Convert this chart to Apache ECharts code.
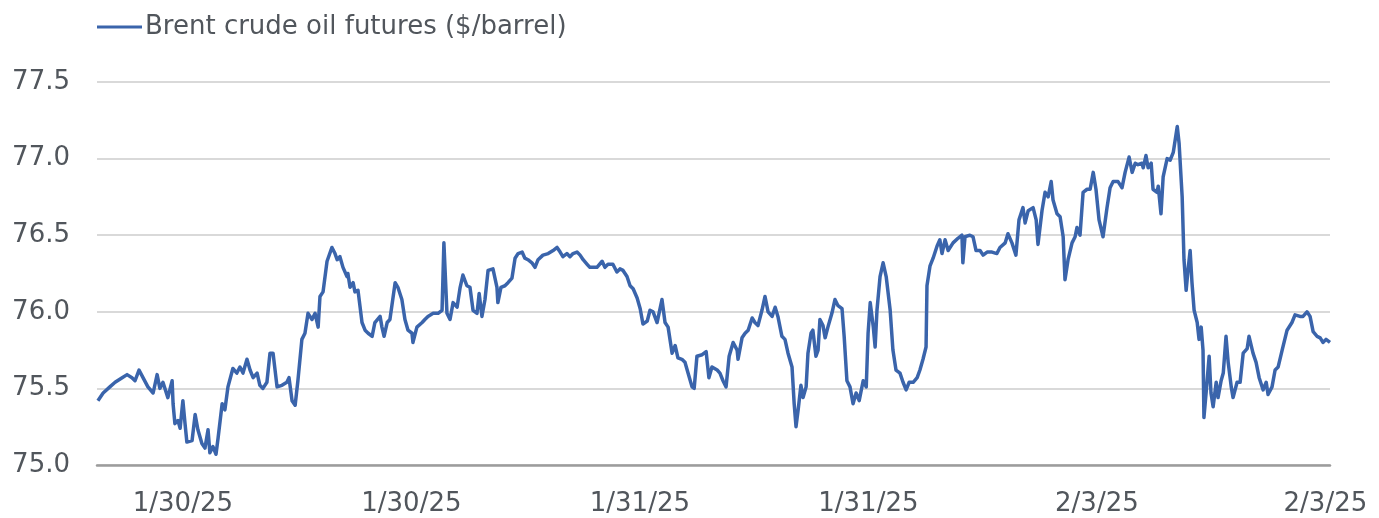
<!DOCTYPE html>
<html>
<head>
<meta charset="utf-8">
<script src="https://cdn.jsdelivr.net/npm/echarts@6/dist/echarts.min.js"></script>
<style>
  html, body { margin: 0; padding: 0; background: #ffffff; }
  #chart { width: 1379px; height: 518px; }
</style>
</head>
<body>
<div id="chart"></div>
<script>
// Intraday Brent crude futures, sampled along the session (x = sample position, y = $/barrel)
const seriesName = 'Brent crude oil futures ($/barrel)';

const samplePos = [
  0.3, 2.0, 4.2, 5.9, 8.2, 9.8, 11.4, 12.4, 13.7, 15.0, 16.6, 18.3, 19.6, 20.5, 21.5, 23.1, 24.5, 24.8, 25.4, 26.4,
  27.1, 28.0, 28.7, 29.3, 31.0, 32.0, 32.9, 34.2, 35.2, 36.2, 36.8, 37.8, 38.8, 39.5, 40.8, 41.7, 42.7, 44.3, 45.6, 46.6,
  47.6, 48.9, 49.9, 50.9, 52.2, 53.1, 54.1, 55.4, 56.4, 57.4, 58.7, 60.3, 61.9, 62.6, 63.6, 64.6, 65.5, 66.8, 67.8, 68.8,
  70.1, 71.1, 72.1, 72.7, 73.7, 75.0, 76.6, 77.6, 78.3, 79.2, 80.2, 81.5, 81.8, 82.5, 83.5, 84.1, 85.1, 86.4, 87.4, 88.4,
  89.7, 90.6, 92.3, 92.9, 93.6, 94.6, 95.5, 97.2, 98.1, 99.4, 100.4, 101.4, 102.7, 103.0, 104.3, 106.0, 106.9, 107.9, 109.6, 111.2,
  112.5, 113.1, 114.1, 115.1, 116.1, 117.4, 118.4, 119.3, 120.6, 121.6, 122.6, 123.9, 124.6, 125.5, 126.5, 127.5, 129.1, 130.4, 130.7, 131.7,
  133.0, 134.0, 135.3, 136.3, 137.3, 138.6, 139.5, 140.5, 141.8, 142.8, 143.8, 145.4, 147.1, 148.7, 150.0, 151.0, 151.9, 153.2, 154.2, 155.2,
  156.5, 157.5, 158.5, 159.8, 160.7, 163.0, 164.7, 165.6, 166.6, 168.2, 169.5, 170.5, 171.5, 172.8, 173.8, 174.8, 176.1, 177.1, 178.0, 179.4,
  180.3, 181.3, 182.6, 184.2, 185.2, 186.2, 187.5, 188.5, 189.4, 190.7, 191.7, 192.7, 194.0, 194.7, 195.6, 197.3, 198.6, 199.5, 200.5, 202.2,
  203.1, 204.1, 205.1, 206.1, 207.4, 208.7, 209.0, 210.3, 211.3, 212.3, 213.6, 214.5, 215.5, 216.8, 217.8, 218.8, 220.1, 221.1, 222.0, 223.3,
  224.3, 225.3, 226.6, 227.3, 227.9, 228.6, 229.5, 230.2, 231.2, 231.8, 232.8, 233.4, 234.4, 235.1, 235.7, 236.7, 237.4, 238.3, 239.6, 240.6,
  241.6, 242.9, 243.6, 244.5, 245.5, 246.5, 247.5, 248.5, 249.8, 250.8, 251.4, 252.1, 253.1, 253.7, 254.3, 255.3, 256.3, 257.3, 258.6, 259.5,
  260.5, 261.8, 262.8, 263.8, 264.8, 266.1, 267.4, 268.3, 269.3, 270.3, 270.6, 271.6, 272.6, 273.9, 274.8, 275.5, 276.5, 277.5, 279.1, 280.7,
  282.0, 282.3, 283.0, 284.6, 285.6, 286.6, 287.9, 288.9, 290.2, 291.8, 293.4, 294.4, 296.1, 297.0, 298.3, 299.6, 300.6, 301.9, 302.6, 303.6,
  305.2, 306.2, 306.8, 308.1, 309.1, 310.1, 311.1, 311.7, 313.0, 314.0, 315.0, 315.6, 316.6, 317.9, 318.9, 319.5, 320.5, 321.5, 322.8, 323.8,
  324.8, 325.7, 326.7, 328.0, 329.3, 330.3, 331.3, 332.9, 334.2, 335.2, 336.5, 337.5, 338.5, 339.4, 340.7, 341.1, 342.0, 342.7, 343.7, 344.3,
  345.6, 346.0, 346.9, 347.6, 348.9, 349.9, 350.9, 352.2, 352.8, 353.8, 354.4, 355.1, 355.7, 356.4, 357.0, 357.7, 358.7, 359.3, 360.0, 360.6,
  360.9, 361.9, 362.6, 363.2, 363.9, 364.9, 365.5, 366.5, 367.2, 368.1, 368.8, 369.8, 370.4, 371.7, 372.7, 373.7, 375.0, 375.6, 376.9, 377.9,
  378.9, 380.2, 381.2, 381.8, 383.1, 384.1, 385.1, 386.4, 388.0, 389.6, 390.6, 392.2, 393.2, 394.5, 395.5, 396.5, 397.8, 398.8, 399.7, 400.7,
  402.0
];

const brentPrice = [
  75.42, 75.47, 75.51, 75.54, 75.57, 75.59, 75.57, 75.55, 75.62, 75.57, 75.51, 75.47, 75.59, 75.50, 75.54, 75.44, 75.55, 75.40, 75.27, 75.29,
  75.24, 75.42, 75.27, 75.15, 75.16, 75.33, 75.23, 75.14, 75.11, 75.23, 75.08, 75.12, 75.07, 75.18, 75.40, 75.36, 75.51, 75.63, 75.60, 75.64,
  75.60, 75.69, 75.62, 75.57, 75.60, 75.52, 75.50, 75.54, 75.73, 75.73, 75.51, 75.52, 75.54, 75.57, 75.42, 75.39, 75.55, 75.82, 75.86, 75.99,
  75.95, 75.99, 75.90, 76.10, 76.13, 76.33, 76.42, 76.38, 76.34, 76.36, 76.29, 76.23, 76.25, 76.16, 76.19, 76.13, 76.14, 75.93, 75.88, 75.86,
  75.84, 75.93, 75.97, 75.90, 75.84, 75.93, 75.95, 76.19, 76.16, 76.08, 75.95, 75.88, 75.86, 75.80, 75.90, 75.93, 75.95, 75.97, 75.99, 75.99,
  76.01, 76.45, 75.99, 75.95, 76.06, 76.03, 76.16, 76.24, 76.17, 76.16, 76.01, 75.99, 76.12, 75.97, 76.08, 76.27, 76.28, 76.16, 76.06, 76.16,
  76.17, 76.19, 76.22, 76.35, 76.38, 76.39, 76.35, 76.34, 76.32, 76.29, 76.34, 76.37, 76.38, 76.40, 76.42, 76.39, 76.36, 76.38, 76.36, 76.38,
  76.39, 76.37, 76.34, 76.31, 76.29, 76.29, 76.33, 76.29, 76.31, 76.31, 76.26, 76.28, 76.27, 76.23, 76.17, 76.15, 76.09, 76.02, 75.92, 75.94,
  76.01, 76.00, 75.93, 76.08, 75.93, 75.90, 75.73, 75.78, 75.70, 75.69, 75.67, 75.60, 75.51, 75.50, 75.71, 75.72, 75.74, 75.57, 75.64, 75.62,
  75.60, 75.55, 75.51, 75.71, 75.80, 75.75, 75.69, 75.83, 75.86, 75.88, 75.96, 75.93, 75.91, 76.01, 76.10, 76.00, 75.97, 76.03, 75.97, 75.84,
  75.82, 75.73, 75.64, 75.40, 75.25, 75.36, 75.52, 75.44, 75.51, 75.73, 75.86, 75.88, 75.71, 75.75, 75.95, 75.91, 75.83, 75.90, 75.99, 76.08,
  76.04, 76.02, 75.84, 75.55, 75.51, 75.40, 75.47, 75.42, 75.55, 75.51, 75.86, 76.06, 75.90, 75.77, 76.01, 76.23, 76.32, 76.23, 76.01, 75.75,
  75.62, 75.60, 75.54, 75.49, 75.54, 75.54, 75.57, 75.62, 75.69, 75.77, 76.17, 76.30, 76.35, 76.43, 76.47, 76.38, 76.47, 76.40, 76.45, 76.48,
  76.50, 76.32, 76.49, 76.50, 76.49, 76.40, 76.40, 76.37, 76.39, 76.39, 76.38, 76.42, 76.45, 76.51, 76.45, 76.37, 76.60, 76.68, 76.58, 76.66,
  76.68, 76.60, 76.44, 76.66, 76.78, 76.75, 76.85, 76.73, 76.64, 76.62, 76.49, 76.21, 76.34, 76.45, 76.49, 76.55, 76.50, 76.78, 76.80, 76.80,
  76.91, 76.80, 76.60, 76.49, 76.68, 76.81, 76.85, 76.85, 76.81, 76.91, 77.01, 76.91, 76.97, 76.96, 76.97, 76.94, 77.02, 76.94, 76.97, 76.80,
  76.78, 76.82, 76.64, 76.88, 77.00, 76.99, 77.04, 77.21, 77.10, 76.75, 76.34, 76.14, 76.27, 76.40, 76.19, 76.01, 75.93, 75.82, 75.90, 75.75,
  75.31, 75.54, 75.71, 75.47, 75.38, 75.54, 75.44, 75.55, 75.60, 75.84, 75.67, 75.51, 75.44, 75.54, 75.54, 75.73, 75.76, 75.84, 75.73, 75.67,
  75.57, 75.49, 75.54, 75.46, 75.51, 75.62, 75.64, 75.75, 75.88, 75.93, 75.98, 75.97, 75.97, 76.00, 75.97, 75.87, 75.84, 75.83, 75.80, 75.82,
  75.80
];

// Date ticks along the session axis
const tickPos = [28, 102.5, 177, 251.5, 326, 400.5];
const tickLabels = ['1/30/25', '1/30/25', '1/31/25', '1/31/25', '2/3/25', '2/3/25'];

const yTicks = { min: 75, max: 77.5, step: 0.5 };

const textColor = '#51565c';
const lineColor = '#3a64ab';
const fontFamily = '"DejaVu Sans", sans-serif';

const chart = echarts.init(document.getElementById('chart'), null, { renderer: 'canvas' });

chart.setOption({
  animation: false,
  backgroundColor: '#ffffff',
  legend: {
    left: 97,
    top: 14,
    padding: 0,
    icon: 'rect',
    itemWidth: 45,
    itemHeight: 3,
    itemGap: 20,
    textStyle: { color: textColor, fontSize: 26, fontFamily: fontFamily, padding: [0, 0, 0, -2] },
    data: [seriesName]
  },
  grid: { left: 97, right: 49, top: 82, bottom: 53, containLabel: false },
  xAxis: {
    type: 'value',
    min: 0,
    max: 402,
    axisLine: { show: true, onZero: false, lineStyle: { color: '#9c9c9c', width: 2.5 } },
    axisTick: { show: false },
    splitLine: { show: false },
    axisLabel: {
      customValues: tickPos,
      formatter: function (v) {
        const k = tickPos.indexOf(v);
        return k >= 0 ? tickLabels[k] : '';
      },
      color: textColor,
      fontSize: 26,
      fontFamily: fontFamily,
      margin: 26
    }
  },
  yAxis: {
    type: 'value',
    min: yTicks.min,
    max: yTicks.max,
    interval: yTicks.step,
    axisLine: { show: false },
    axisTick: { show: false },
    splitLine: { lineStyle: { color: '#cdcdcd', width: 1.5 } },
    axisLabel: {
      formatter: function (v) { return v.toFixed(1); },
      color: textColor,
      fontSize: 26,
      fontFamily: fontFamily,
      margin: 27
    }
  },
  series: [{
    name: seriesName,
    type: 'line',
    showSymbol: false,
    symbol: 'none',
    data: samplePos.map(function (p, i) { return [p, brentPrice[i]]; }),
    lineStyle: { color: lineColor, width: 3.5, join: 'round' },
    itemStyle: { color: lineColor }
  }]
});
</script>
</body>
</html>
